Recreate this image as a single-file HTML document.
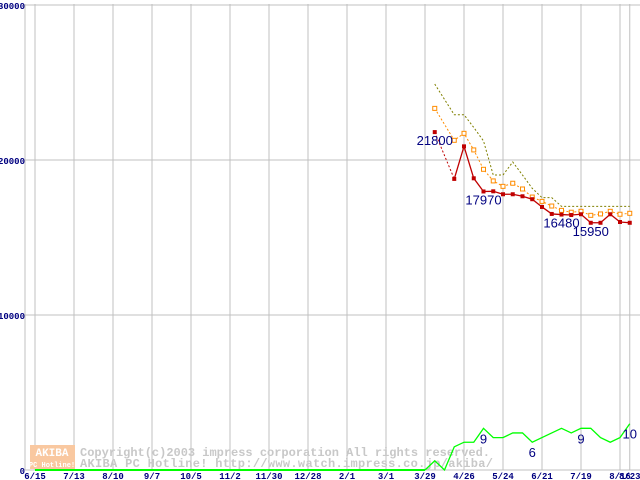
<!DOCTYPE html>
<html><head><meta charset="utf-8"><style>
html,body{margin:0;padding:0;background:#fff;}
svg{display:block;font-family:"Liberation Mono","DejaVu Sans Mono",monospace;}
</style></head><body>
<svg id="chart" width="640" height="480" viewBox="0 0 640 480" xmlns="http://www.w3.org/2000/svg"></svg>
<script>
const xLabels=["6/15","7/13","8/10","9/7","10/5","11/2","11/30","12/28","2/1","3/1","3/29","4/26","5/24","6/21","7/19","8/16","8/23"];
const yTicks=[0,10000,20000,30000];
const weeks=[1,3,4,5,6,7,8,9,10,11,12,13,14,15,16,17,18,19,20,21];
const minPrice=[21800,18780,20880,18820,17970,17980,17790,17790,17660,17470,16970,16520,16480,16450,16500,15950,15950,16500,16000,15950];
const avgPrice=[23330,21270,21720,20650,19400,18650,18300,18500,18130,17610,17330,17030,16750,16630,16690,16430,16520,16690,16500,16560];
const maxPrice=[24900,22920,22920,22100,21230,19030,19030,19870,19030,18170,17570,17570,17010,17010,17010,17010,17010,17010,17010,17010];
const countWeeks=[0,1,2,3,4,5,6,7,8,9,10,11,12,13,14,15,16,17,18,19,20,21];
const shopCount=[0,2,0,5,6,6,9,7,7,8,8,6,7,8,9,8,9,9,7,6,7,10];
const priceLabels=[[0,"21800"],[4,"17970"],[12,"16480"],[15,"15950"]];
const countLabels=[[6,"9"],[11,"6"],[16,"9"],[21,"10"]];

const NS="http://www.w3.org/2000/svg";
const svg=document.getElementById('chart');
function el(t,a,p){const e=document.createElementNS(NS,t);for(const k in a)e.setAttribute(k,a[k]);(p||svg).appendChild(e);return e;}
const X0=425,WK=9.75;
function xw(w){return X0+w*WK;}
function gridX(i){return i<=10?35+39*i:xw((i-10)*4+(i===16?-3:0));}
function yP(v){return 470-v*0.0155;}
function yC(c){return 470-c*4.63;}

for(let i=0;i<xLabels.length;i++){
  const gx=i===16?xw(21):gridX(i);
  const g=el('line',{x1:gx,y1:4,x2:gx,y2:470,stroke:'#c0c0c0','stroke-width':1});
  
  
  const t=el('text',{x:gx,y:479,'text-anchor':'middle','font-size':9,'font-weight':'bold',fill:'#000080'});
  t.textContent=xLabels[i];
  
  
}
for(const v of yTicks){
  const g=el('line',{x1:25,y1:yP(v),x2:640,y2:yP(v),stroke:'#c0c0c0','stroke-width':1});
  
  
  const t=el('text',{x:25,y:yP(v)+4,'text-anchor':'end','font-size':9,'font-weight':'bold',fill:'#000080'});
  t.textContent=String(v);
  
  
}
const ax=el('line',{x1:25,y1:4,x2:25,y2:470,stroke:'#c0c0c0'});



const logo=el('rect',{x:30,y:445,width:45,height:24,fill:'#f9c8a0'});


const l1=el('text',{x:52,y:456,'text-anchor':'middle','font-size':11,'font-weight':'bold',fill:'#fff'});l1.textContent="AKIBA";


const l2=el('text',{x:52,y:467,'text-anchor':'middle','font-size':7,'font-weight':'bold',fill:'#fff'});l2.textContent="PC Hotline!";


const w1=el('text',{x:80,y:456,'font-size':12,'font-weight':'bold',fill:'#c8c8c8',textLength:410});w1.textContent="Copyright(c)2003 impress corporation All rights reserved.";


const w2=el('text',{x:80,y:467,'font-size':12,'font-weight':'bold',fill:'#c8c8c8',textLength:413});w2.textContent="AKIBA PC Hotline!  http://www.watch.impress.co.jp/akiba/";



function poly(ws,vals,yf,attrs,name){
  const pts=ws.map((w,i)=>xw(w)+','+yf(vals[i])).join(' ');
  const p=el('polyline',Object.assign({points:pts,fill:'none'},attrs));
  
  
  return p;
}
const gz=el('line',{x1:35,y1:470,x2:xw(0),y2:470,stroke:'#00ff00','stroke-width':2});


poly(countWeeks,shopCount,yC,{stroke:'#00ff00','stroke-width':1.3},'shop-count-line');

poly(weeks,maxPrice,yP,{stroke:'#808000','stroke-width':1,'stroke-dasharray':'2,2'},'max-price-line');
poly(weeks,avgPrice,yP,{stroke:'#ff8c00','stroke-width':1,'stroke-dasharray':'2,2'},'avg-price-line');
weeks.forEach((w,i)=>{
  const r=el('rect',{x:xw(w)-2,y:yP(avgPrice[i])-2,width:4,height:4,fill:'#fff',stroke:'#ff8c00','stroke-width':1});
  
  
});
poly(weeks.slice(0,2),minPrice.slice(0,2),yP,{stroke:'#c00000','stroke-width':1,'stroke-dasharray':'2,2'},'min-price-dashed');
poly(weeks.slice(1),minPrice.slice(1),yP,{stroke:'#c00000','stroke-width':1.3},'min-price-line');
weeks.forEach((w,i)=>{
  const r=el('rect',{x:xw(w)-2,y:yP(minPrice[i])-2,width:4,height:4,fill:'#c00000'});
  
  
});
for(const [i,s] of priceLabels){
  const t=el('text',{x:xw(weeks[i]),y:yP(minPrice[i])+13,'text-anchor':'middle','font-size':13,fill:'#000080','font-family':'"Liberation Sans",sans-serif'});
  t.textContent=s;
  
  
}
for(const [i,s] of countLabels){
  const t=el('text',{x:xw(countWeeks[i]),y:yC(shopCount[i])+15,'text-anchor':'middle','font-size':13,fill:'#000080','font-family':'"Liberation Sans",sans-serif'});
  t.textContent=s;
  
  
}
</script>
</body></html>
